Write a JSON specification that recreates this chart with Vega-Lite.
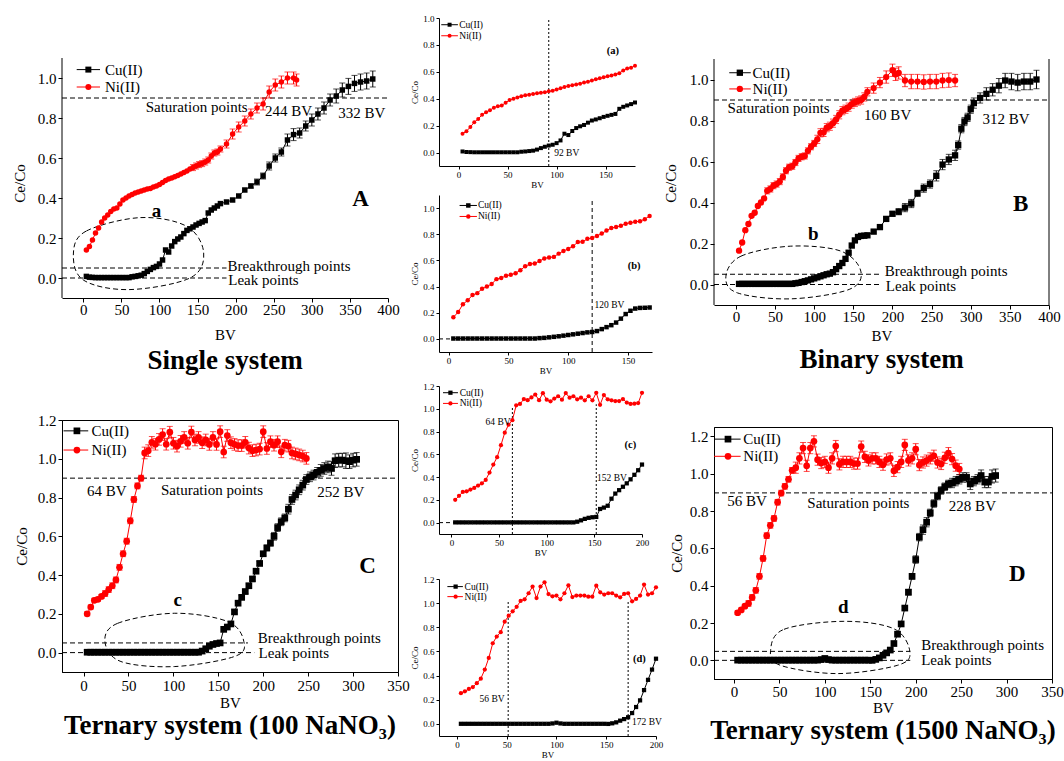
{
"$schema":"https://vega.github.io/schema/vega-lite/v6.json",
"background":"white",
"padding":{"left":12,"top":14,"right":0,"bottom":0},
"config":{"font":"Liberation Serif","view":{"stroke":null},
"axis":{"grid":false,"labelColor":"black","titleColor":"black","domainColor":"black","tickColor":"black","titleFontWeight":"normal","labelFont":"Liberation Serif","titleFont":"Liberation Serif","labelFontSize":15,"titleFontSize":15,"tickSize":4,"labelPadding":1,"labelFlush":false,"labelOverlap":false},
"title":{"font":"Liberation Serif","color":"black"},
"text":{"font":"Liberation Serif","color":"black"}},
"datasets":{
"A":[
{"s":"Cu","x":[4,8,12,16,20,24,28,32,36,40,44,48,52,56,60,64,68,72,76,80,84,88,92,96,100,104,108,112,116,120,124,128,132,136,140,144,148,152,156,160,164,168,172,176,180,188,196,204,212,220,228,236,244,252,260,268,276,284,292,300,308,316,324,332,340,348,356,364,372,380],
"y":[0.008,0.004,0.003,0.002,0.002,0.002,0.002,0.002,0.002,0.002,0.002,0.002,0.002,0.002,0.002,0.006,0.008,0.011,0.014,0.022,0.033,0.043,0.052,0.058,0.07,0.09,0.14,0.13,0.16,0.182,0.195,0.205,0.222,0.238,0.246,0.255,0.265,0.273,0.28,0.287,0.325,0.34,0.35,0.36,0.372,0.38,0.39,0.41,0.44,0.46,0.48,0.51,0.56,0.6,0.63,0.69,0.717,0.725,0.76,0.79,0.82,0.85,0.89,0.91,0.94,0.958,0.973,0.98,0.985,0.995],
"e":[0,0,0,0,0,0,0,0,0,0,0,0,0,0,0,0,0,0,0,0,0,0,0,0,0,0,0,0,0,0,0,0,0,0,0,0,0,0,0,0,0,0,0,0,0,0,0,0,0,0.01,0.015,0.015,0.02,0.02,0.02,0.03,0.03,0.025,0.025,0.03,0.03,0.03,0.03,0.035,0.035,0.04,0.04,0.04,0.04,0.04]},
{"s":"Ni","x":[4,8,12,16,20,24,28,32,36,40,44,48,52,56,60,64,68,72,76,80,84,88,92,96,100,104,108,112,116,120,124,128,132,136,140,144,148,152,156,160,164,168,172,176,180,188,196,204,212,220,228,236,244,252,260,268,276,280],
"y":[0.14,0.158,0.19,0.225,0.25,0.28,0.3,0.315,0.333,0.345,0.35,0.37,0.39,0.4,0.41,0.418,0.425,0.43,0.435,0.44,0.445,0.448,0.455,0.46,0.468,0.478,0.487,0.495,0.5,0.506,0.512,0.52,0.527,0.535,0.545,0.552,0.56,0.567,0.572,0.58,0.59,0.61,0.625,0.63,0.645,0.67,0.72,0.755,0.785,0.82,0.85,0.87,0.93,0.965,0.98,1.0,1.0,0.99],
"e":[0,0,0,0,0,0,0,0,0,0,0,0,0,0,0,0,0,0,0,0,0,0,0,0,0,0,0,0,0,0,0,0,0,0,0,0.015,0.015,0.015,0.015,0.015,0.015,0.015,0.015,0.015,0.015,0.02,0.025,0.025,0.025,0.025,0.025,0.03,0.03,0.03,0.03,0.03,0.03,0.03]}
],
"B":[
{"s":"Cu","x":[4,8,12,16,20,24,28,32,36,40,44,48,52,56,60,64,68,72,76,80,84,88,92,96,100,104,108,112,116,120,124,128,132,136,140,144,148,152,156,160,164,168,176,184,192,200,208,216,224,232,240,248,256,264,272,280,284,288,292,296,300,304,312,320,328,336,344,352,360,368,376,384],
"y":[0.003,0.003,0.003,0.003,0.003,0.003,0.003,0.003,0.003,0.003,0.003,0.003,0.003,0.003,0.003,0.003,0.003,0.003,0.006,0.008,0.012,0.016,0.02,0.025,0.03,0.035,0.04,0.045,0.05,0.053,0.06,0.075,0.09,0.105,0.125,0.155,0.19,0.215,0.232,0.237,0.238,0.24,0.258,0.28,0.32,0.345,0.355,0.375,0.395,0.445,0.47,0.49,0.53,0.585,0.61,0.63,0.68,0.76,0.795,0.815,0.855,0.885,0.91,0.93,0.95,0.97,0.995,0.99,0.985,0.99,0.99,1.0],
"e":[0,0,0,0,0,0,0,0,0,0,0,0,0,0,0,0,0,0,0,0,0,0,0,0,0,0,0,0,0,0,0,0,0,0,0,0,0,0,0,0,0,0,0,0,0,0.01,0.015,0.02,0.02,0.015,0.02,0.02,0.025,0.025,0.025,0.025,0.02,0.02,0.02,0.02,0.02,0.025,0.025,0.03,0.03,0.035,0.035,0.04,0.04,0.04,0.04,0.045]},
{"s":"Ni","x":[4,8,12,16,20,24,28,32,36,40,44,48,52,56,60,64,68,72,76,80,84,88,92,96,100,104,108,112,116,120,124,128,132,136,140,144,148,152,156,160,164,168,176,184,192,200,204,208,216,224,232,240,248,256,264,272,280],
"y":[0.165,0.205,0.265,0.295,0.335,0.35,0.383,0.4,0.42,0.457,0.466,0.482,0.49,0.502,0.525,0.555,0.572,0.577,0.595,0.615,0.623,0.627,0.652,0.672,0.688,0.708,0.74,0.742,0.765,0.772,0.787,0.805,0.828,0.848,0.855,0.865,0.88,0.888,0.895,0.9,0.915,0.94,0.958,0.985,1.012,1.045,1.025,1.032,0.995,0.99,0.99,0.988,0.99,0.99,0.995,0.997,0.995],
"e":[0,0,0,0,0,0,0,0,0,0.015,0.015,0.015,0.015,0.015,0.015,0.015,0.015,0.015,0.015,0.015,0.015,0.015,0.015,0.015,0.015,0.02,0.02,0.02,0.02,0.02,0.02,0.02,0.02,0.02,0.02,0.02,0.02,0.02,0.02,0.02,0.02,0.02,0.025,0.025,0.03,0.03,0.03,0.03,0.03,0.035,0.035,0.035,0.035,0.035,0.035,0.035,0.03]}
],
"C":[
{"s":"Cu","x":[4,8,12,16,20,24,28,32,36,40,44,48,52,56,60,64,68,72,76,80,84,88,92,96,100,104,108,112,116,120,124,128,132,136,140,144,148,152,156,160,164,168,172,176,180,184,188,192,196,200,204,208,212,216,220,224,228,232,236,240,244,248,252,256,260,264,268,272,276,280,284,288,292,296,300,304],
"y":[0.002,0.002,0.002,0.002,0.002,0.002,0.002,0.002,0.002,0.002,0.002,0.002,0.002,0.002,0.002,0.002,0.002,0.002,0.002,0.002,0.002,0.002,0.002,0.002,0.002,0.002,0.002,0.002,0.002,0.002,0.002,0.002,0.008,0.02,0.033,0.042,0.047,0.05,0.12,0.132,0.148,0.21,0.255,0.285,0.315,0.345,0.38,0.42,0.46,0.51,0.54,0.565,0.6,0.645,0.675,0.695,0.74,0.79,0.813,0.84,0.864,0.893,0.907,0.916,0.93,0.94,0.95,0.958,0.95,0.99,0.993,0.993,0.99,0.985,0.993,0.997],
"e":[0,0,0,0,0,0,0,0,0,0,0,0,0,0,0,0,0,0,0,0,0,0,0,0,0,0,0,0,0,0,0,0,0,0,0,0,0,0,0,0,0.01,0.01,0.01,0.01,0.01,0.01,0.01,0.01,0.01,0.01,0.015,0.015,0.02,0.02,0.02,0.02,0.025,0.025,0.025,0.025,0.025,0.025,0.025,0.025,0.025,0.03,0.03,0.03,0.035,0.035,0.035,0.035,0.04,0.035,0.035,0.035]},
{"s":"Ni","x":[4,8,12,16,20,24,28,32,36,40,44,48,52,56,60,64,68,72,76,80,84,88,92,96,100,104,108,112,116,120,124,128,132,136,140,144,148,152,156,160,164,168,172,176,180,184,188,192,196,200,204,208,212,216,220,224,228,232,236,240,244,248],
"y":[0.2,0.235,0.27,0.275,0.29,0.305,0.325,0.345,0.375,0.44,0.51,0.575,0.68,0.79,0.86,0.9,1.03,1.042,1.085,1.075,1.1,1.125,1.075,1.137,1.08,1.065,1.09,1.11,1.08,1.138,1.097,1.11,1.083,1.097,1.074,1.11,1.074,1.14,1.035,1.12,1.083,1.074,1.068,1.068,1.085,1.055,1.042,1.045,1.05,1.14,1.053,1.088,1.07,1.088,1.036,1.07,1.065,1.03,1.025,1.02,1.014,1.002],
"e":[0.01,0.01,0.01,0.01,0.01,0.015,0.015,0.015,0.015,0.015,0.015,0.015,0.015,0.015,0.015,0.015,0.03,0.03,0.03,0.03,0.03,0.03,0.03,0.03,0.03,0.03,0.03,0.03,0.03,0.03,0.03,0.03,0.03,0.03,0.03,0.03,0.03,0.03,0.03,0.03,0.03,0.03,0.03,0.03,0.03,0.03,0.03,0.03,0.03,0.03,0.03,0.03,0.03,0.03,0.03,0.03,0.03,0.03,0.03,0.03,0.03,0.03]}
],
"D":[
{"s":"Cu","x":[4,8,12,16,20,24,28,32,36,40,44,48,52,56,60,64,68,72,76,80,84,88,92,96,100,104,108,112,116,120,124,128,132,136,140,144,148,152,156,160,164,168,172,176,180,184,188,192,196,200,204,208,212,216,220,224,228,232,236,240,244,248,252,256,260,264,268,272,276,280,284,288],
"y":[0.001,0.001,0.001,0.001,0.001,0.001,0.001,0.001,0.001,0.001,0.001,0.001,0.001,0.001,0.001,0.001,0.001,0.001,0.001,0.001,0.001,0.001,0.001,0.004,0.01,0.004,0.001,0.001,0.001,0.001,0.001,0.001,0.001,0.001,0.001,0.001,0.001,0.0,0.005,0.013,0.027,0.04,0.055,0.09,0.14,0.195,0.28,0.365,0.45,0.54,0.66,0.7,0.74,0.79,0.84,0.88,0.91,0.93,0.945,0.95,0.96,0.97,0.98,0.98,0.945,0.96,0.97,0.99,0.955,0.955,0.985,0.99],
"e":[0,0,0,0,0,0,0,0,0,0,0,0,0,0,0,0,0,0,0,0,0,0,0,0,0,0,0,0,0,0,0,0,0,0,0,0,0,0,0,0,0,0,0,0,0,0,0.01,0.015,0.015,0.02,0.02,0.025,0.025,0.02,0.02,0.02,0.02,0.02,0.02,0.025,0.025,0.025,0.025,0.025,0.03,0.025,0.025,0.03,0.03,0.03,0.035,0.035]},
{"s":"Ni","x":[4,8,12,16,20,24,28,32,36,40,44,48,52,56,60,64,68,72,76,80,84,88,92,96,100,104,108,112,116,120,124,128,132,136,140,144,148,152,156,160,164,168,172,176,180,184,188,192,196,200,204,208,212,216,220,224,228,232,236,240,244,248],
"y":[0.255,0.27,0.29,0.305,0.337,0.375,0.45,0.546,0.668,0.723,0.76,0.847,0.896,0.932,0.97,1.018,1.032,1.082,1.137,1.042,1.137,1.173,1.075,1.057,1.063,1.032,1.082,1.148,1.05,1.063,1.063,1.063,1.054,1.054,1.145,1.09,1.071,1.082,1.082,1.063,1.048,1.076,1.082,1.015,1.035,1.063,1.154,1.071,1.082,1.131,1.046,1.06,1.07,1.082,1.096,1.06,1.052,1.085,1.11,1.078,1.043,1.025],
"e":[0.01,0.01,0.01,0.015,0.015,0.015,0.015,0.015,0.015,0.015,0.015,0.015,0.015,0.015,0.015,0.015,0.03,0.03,0.03,0.03,0.03,0.03,0.03,0.03,0.03,0.03,0.03,0.03,0.03,0.03,0.03,0.03,0.03,0.03,0.03,0.03,0.03,0.03,0.03,0.03,0.03,0.03,0.03,0.03,0.03,0.03,0.03,0.03,0.03,0.03,0.03,0.03,0.03,0.03,0.03,0.03,0.03,0.03,0.03,0.03,0.03,0.03]}
],
"nA":[
{"k":"dash","x":-28,"x2":400,"y":0.9},{"k":"dash","x":-28,"x2":188,"y":0.05},{"k":"dash","x":-28,"x2":188,"y":0},
{"k":"axis","x":-28,"y":-0.1,"y2":1.1},
{"k":"ell","i":0,"x":-13,"y":0.125},{"k":"ell","i":1,"x":4,"y":0.235},{"k":"ell","i":2,"x":75,"y":0.302},{"k":"ell","i":3,"x":136,"y":0.258},{"k":"ell","i":4,"x":158,"y":0.125},{"k":"ell","i":5,"x":140,"y":0.0},{"k":"ell","i":6,"x":60,"y":-0.058},{"k":"ell","i":7,"x":0,"y":-0.01},
{"k":"leg","s":"Cu","x":-8.7,"x2":21.9,"y":1.042},{"k":"leg","s":"Ni","x":-8.7,"x2":21.9,"y":0.955},
{"k":"legm","s":"Cu","x":6.6,"y":1.042},{"k":"legm","s":"Ni","x":6.6,"y":0.955},
{"k":"txt","t":"Cu(II)","x":28.4,"y":1.042},{"k":"txt","t":"Ni(II)","x":28.4,"y":0.955},
{"k":"txt","t":"Saturation points","x":81.8,"y":0.855},{"k":"txt","t":"244 BV","x":238.4,"y":0.833},{"k":"txt","t":"332 BV","x":334.6,"y":0.825},
{"k":"txt","t":"Breakthrough points","x":189.4,"y":0.062},{"k":"txt","t":"Leak points","x":190.3,"y":-0.008},
{"k":"lab","t":"a","x":96.2,"y":0.333},{"k":"big","t":"A","x":364,"y":0.397}
],
"nB":[
{"k":"dash","x":-28,"x2":400,"y":0.9},{"k":"dash","x":-28,"x2":185,"y":0.05},{"k":"dash","x":-28,"x2":185,"y":0},
{"k":"axis","x":-28,"y":-0.1,"y2":1.1},{"k":"axis","x":400,"y":-0.1,"y2":1.1},
{"k":"ell","i":0,"x":-12.8,"y":0.04},{"k":"ell","i":1,"x":6.4,"y":0.138},{"k":"ell","i":2,"x":70,"y":0.187},{"k":"ell","i":3,"x":134,"y":0.163},{"k":"ell","i":4,"x":159.6,"y":0.065},{"k":"ell","i":5,"x":144.7,"y":-0.024},{"k":"ell","i":6,"x":70,"y":-0.07},{"k":"ell","i":7,"x":2,"y":-0.041},
{"k":"leg","s":"Cu","x":-8.5,"x2":19,"y":1.033},{"k":"leg","s":"Ni","x":-8.5,"x2":19,"y":0.954},
{"k":"legm","s":"Cu","x":5,"y":1.033},{"k":"legm","s":"Ni","x":5,"y":0.954},
{"k":"txt","t":"Cu(II)","x":21.3,"y":1.033},{"k":"txt","t":"Ni(II)","x":21.3,"y":0.954},
{"k":"txt","t":"Saturation points","x":-10.6,"y":0.862},{"k":"txt","t":"160 BV","x":163.8,"y":0.829},{"k":"txt","t":"312 BV","x":315,"y":0.805},
{"k":"txt","t":"Breakthrough points","x":190,"y":0.065},{"k":"txt","t":"Leak points","x":191.5,"y":-0.008},
{"k":"lab","t":"b","x":99,"y":0.244},{"k":"big","t":"B","x":363.8,"y":0.395}
],
"nC":[
{"k":"dash","x":-24,"x2":350,"y":0.9},{"k":"dash","x":-24,"x2":183,"y":0.05},{"k":"dash","x":-24,"x2":190,"y":0},
{"k":"ell","i":0,"x":23.8,"y":0.057},{"k":"ell","i":1,"x":37.9,"y":0.151},{"k":"ell","i":2,"x":101,"y":0.203},{"k":"ell","i":3,"x":160.6,"y":0.16},{"k":"ell","i":4,"x":178.4,"y":0.057},{"k":"ell","i":5,"x":168,"y":-0.02},{"k":"ell","i":6,"x":101,"y":-0.072},{"k":"ell","i":7,"x":41.6,"y":-0.046},
{"k":"leg","s":"Cu","x":-22.3,"x2":5.2,"y":1.144},{"k":"leg","s":"Ni","x":-22.3,"x2":5.2,"y":1.045},
{"k":"legm","s":"Cu","x":-7.4,"y":1.144},{"k":"legm","s":"Ni","x":-7.4,"y":1.045},
{"k":"txt","t":"Cu(II)","x":8.9,"y":1.144},{"k":"txt","t":"Ni(II)","x":8.9,"y":1.045},
{"k":"txt","t":"64 BV","x":3.7,"y":0.835},{"k":"txt","t":"Saturation points","x":86.2,"y":0.838},{"k":"txt","t":"252 BV","x":260,"y":0.83},
{"k":"txt","t":"Breakthrough points","x":194,"y":0.077},{"k":"txt","t":"Leak points","x":194.8,"y":0.0},
{"k":"lab","t":"c","x":104.8,"y":0.271},{"k":"big","t":"C","x":316,"y":0.448}
],
"nD":[
{"k":"dash","x":-22,"x2":350,"y":0.897},{"k":"dash","x":-22,"x2":194,"y":0.048},{"k":"dash","x":-22,"x2":194,"y":0},
{"k":"ell","i":0,"x":40.3,"y":0.053},{"k":"ell","i":1,"x":55,"y":0.166},{"k":"ell","i":2,"x":121,"y":0.209},{"k":"ell","i":3,"x":176,"y":0.169},{"k":"ell","i":4,"x":193.6,"y":0.045},{"k":"ell","i":5,"x":179.7,"y":-0.027},{"k":"ell","i":6,"x":113.7,"y":-0.071},{"k":"ell","i":7,"x":51.3,"y":-0.027},
{"k":"leg","s":"Cu","x":-22,"x2":7.3,"y":1.185},{"k":"leg","s":"Ni","x":-22,"x2":7.3,"y":1.093},
{"k":"legm","s":"Cu","x":-6.6,"y":1.185},{"k":"legm","s":"Ni","x":-6.6,"y":1.093},
{"k":"txt","t":"Cu(II)","x":10.3,"y":1.185},{"k":"txt","t":"Ni(II)","x":10.3,"y":1.093},
{"k":"txt","t":"56 BV","x":-7.3,"y":0.856},{"k":"txt","t":"Saturation points","x":80.7,"y":0.843},{"k":"txt","t":"228 BV","x":236.5,"y":0.825},
{"k":"txt","t":"Breakthrough points","x":206,"y":0.08},{"k":"txt","t":"Leak points","x":206,"y":0.004},
{"k":"lab","t":"d","x":120.3,"y":0.285},{"k":"big","t":"D","x":311.7,"y":0.463}
],
"ia":[
{"k":"v","x":92,"y":-0.1,"y2":1.0},
{"k":"leg","s":"Cu","x":-17.7,"x2":-0.7,"y":0.95},{"k":"leg","s":"Ni","x":-17.7,"x2":-0.7,"y":0.868},
{"k":"legm","s":"Cu","x":-9.2,"y":0.95},{"k":"legm","s":"Ni","x":-9.2,"y":0.868},
{"k":"txt","t":"Cu(II)","x":0.7,"y":0.95},{"k":"txt","t":"Ni(II)","x":0.7,"y":0.868},
{"k":"txt","t":"92 BV","x":97.6,"y":-0.005},
{"k":"lab","t":"(a)","x":157.5,"y":0.757}
],
"ib":[
{"k":"v","x":120,"y":-0.1,"y2":1.076},
{"k":"dash","x":-8,"x2":4,"y":0},
{"k":"leg","s":"Cu","x":9.2,"x2":23.7,"y":1.02},{"k":"leg","s":"Ni","x":9.2,"x2":23.7,"y":0.936},
{"k":"legm","s":"Cu","x":16.5,"y":1.02},{"k":"legm","s":"Ni","x":16.5,"y":0.936},
{"k":"txt","t":"Cu(II)","x":24.6,"y":1.02},{"k":"txt","t":"Ni(II)","x":24.6,"y":0.936},
{"k":"txt","t":"120 BV","x":122,"y":0.262},
{"k":"lab","t":"(b)","x":155,"y":0.56}
],
"ic":[
{"k":"v","x":64,"y":-0.1,"y2":1.024},{"k":"v","x":152,"y":-0.1,"y2":1.04},
{"k":"dash","x":-13,"x2":4,"y":0},
{"k":"leg","s":"Cu","x":-8.8,"x2":6.9,"y":1.141},{"k":"leg","s":"Ni","x":-8.8,"x2":6.9,"y":1.047},
{"k":"legm","s":"Cu","x":-1,"y":1.141},{"k":"legm","s":"Ni","x":-1,"y":1.047},
{"k":"txt","t":"Cu(II)","x":8.7,"y":1.141},{"k":"txt","t":"Ni(II)","x":8.7,"y":1.047},
{"k":"txt","t":"64 BV","x":35.9,"y":0.883},{"k":"txt","t":"152 BV","x":152.9,"y":0.389},
{"k":"lab","t":"(c)","x":187.8,"y":0.681}
],
"id":[
{"k":"v","x":51.5,"y":-0.1,"y2":1.016},{"k":"v","x":172,"y":-0.1,"y2":1.02},
{"k":"leg","s":"Cu","x":-9.6,"x2":6,"y":1.137},{"k":"leg","s":"Ni","x":-9.6,"x2":6,"y":1.054},
{"k":"legm","s":"Cu","x":-1.3,"y":1.137},{"k":"legm","s":"Ni","x":-1.3,"y":1.054},
{"k":"txt","t":"Cu(II)","x":7.7,"y":1.137},{"k":"txt","t":"Ni(II)","x":7.7,"y":1.054},
{"k":"txt","t":"56 BV","x":22.8,"y":0.207},{"k":"txt","t":"172 BV","x":175.9,"y":0.019},
{"k":"lab","t":"(d)","x":183.3,"y":0.538}
]
},
"spacing":0,
"hconcat":[
{"vconcat":[
{"width":326,"height":280,
"title":{"text":"Single system","orient":"bottom","fontSize":27,"fontWeight":"bold","offset":6},
"encoding":{
"x":{"field":"x","type":"quantitative","scale":{"domain":[-28,400],"nice":false,"zero":false},"axis":{"values":[0,50,100,150,200,250,300,350,400],"title":"BV","labelPadding":0,"titlePadding":10}},
"y":{"field":"y","type":"quantitative","scale":{"domain":[-0.1,1.3],"nice":false,"zero":false},"axis":{"values":[0,0.2,0.4,0.6,0.8,1],"format":".1f","title":"Ce/Co","domain":false,"labelPadding":2,"titleX":-35,"titleY":165}}},
"layer":[
{"data":{"name":"nA"},"transform":[{"filter":"datum.k=='dash'"}],"mark":{"type":"rule","strokeDash":[5,3],"color":"black"},"encoding":{"x2":{"field":"x2"}}},
{"data":{"name":"nA"},"transform":[{"filter":"datum.k=='axis'"}],"mark":{"type":"rule","color":"black"},"encoding":{"y2":{"field":"y2"}}},
{"data":{"name":"nA"},"transform":[{"filter":"datum.k=='ell'"}],"mark":{"type":"line","interpolate":"cardinal-closed","strokeDash":[5,3],"color":"black","strokeWidth":1},"encoding":{"order":{"field":"i","type":"quantitative"}}},
{"data":{"name":"A"},"transform":[{"flatten":["x","y","e"]},{"filter":"datum.e>0"}],"mark":{"type":"errorbar","ticks":{"size":6}},"encoding":{"yError":{"field":"e"},"color":{"field":"s","type":"nominal","scale":{"domain":["Cu","Ni"],"range":["#000000","#ff0000"]},"legend":null}}},
{"data":{"name":"A"},"transform":[{"flatten":["x","y","e"]}],"mark":{"type":"line","strokeWidth":1},"encoding":{"color":{"field":"s","type":"nominal","legend":null}}},
{"data":{"name":"A"},"transform":[{"flatten":["x","y","e"]}],"mark":{"type":"point","filled":true,"opacity":1,"size":30},"encoding":{"color":{"field":"s","type":"nominal","legend":null},"shape":{"field":"s","type":"nominal","scale":{"domain":["Cu","Ni"],"range":["square","circle"]},"legend":null}}},
{"data":{"name":"nA"},"transform":[{"filter":"datum.k=='leg'"}],"mark":{"type":"rule","strokeWidth":1},"encoding":{"x2":{"field":"x2"},"color":{"field":"s","type":"nominal","legend":null}}},
{"data":{"name":"nA"},"transform":[{"filter":"datum.k=='legm'"}],"mark":{"type":"point","filled":true,"opacity":1,"size":36},"encoding":{"color":{"field":"s","type":"nominal","legend":null},"shape":{"field":"s","type":"nominal","legend":null}}},
{"data":{"name":"nA"},"transform":[{"filter":"datum.k=='txt'"}],"mark":{"type":"text","align":"left","baseline":"middle","fontSize":15},"encoding":{"text":{"field":"t","type":"nominal"}}},
{"data":{"name":"nA"},"transform":[{"filter":"datum.k=='lab'"}],"mark":{"type":"text","align":"center","baseline":"middle","fontSize":19,"fontWeight":"bold"},"encoding":{"text":{"field":"t","type":"nominal"}}},
{"data":{"name":"nA"},"transform":[{"filter":"datum.k=='big'"}],"mark":{"type":"text","align":"center","baseline":"middle","fontSize":23,"fontWeight":"bold"},"encoding":{"text":{"field":"t","type":"nominal"}}}
]},
{"width":336,"height":252,"view":{"stroke":"black"},
"title":{"text":"Ternary system (100 NaNO₃)","orient":"bottom","fontSize":27,"fontWeight":"bold","offset":3},
"encoding":{
"x":{"field":"x","type":"quantitative","scale":{"domain":[-24,350],"nice":false,"zero":false},"axis":{"values":[0,50,100,150,200,250,300,350],"title":"BV","labelPadding":2,"titlePadding":2}},
"y":{"field":"y","type":"quantitative","scale":{"domain":[-0.1,1.2],"nice":false,"zero":false},"axis":{"values":[0,0.2,0.4,0.6,0.8,1,1.2],"format":".1f","title":"Ce/Co","labelPadding":2,"titlePadding":8}}},
"layer":[
{"data":{"name":"nC"},"transform":[{"filter":"datum.k=='dash'"}],"mark":{"type":"rule","strokeDash":[5,3],"color":"black"},"encoding":{"x2":{"field":"x2"}}},
{"data":{"name":"nC"},"transform":[{"filter":"datum.k=='ell'"}],"mark":{"type":"line","interpolate":"cardinal-closed","strokeDash":[5,3],"color":"black","strokeWidth":1},"encoding":{"order":{"field":"i","type":"quantitative"}}},
{"data":{"name":"C"},"transform":[{"flatten":["x","y","e"]},{"filter":"datum.e>0"}],"mark":{"type":"errorbar","ticks":{"size":6}},"encoding":{"yError":{"field":"e"},"color":{"field":"s","type":"nominal","legend":null}}},
{"data":{"name":"C"},"transform":[{"flatten":["x","y","e"]}],"mark":{"type":"line","strokeWidth":1},"encoding":{"color":{"field":"s","type":"nominal","legend":null}}},
{"data":{"name":"C"},"transform":[{"flatten":["x","y","e"]}],"mark":{"type":"point","filled":true,"opacity":1,"size":45},"encoding":{"color":{"field":"s","type":"nominal","legend":null},"shape":{"field":"s","type":"nominal","legend":null}}},
{"data":{"name":"nC"},"transform":[{"filter":"datum.k=='leg'"}],"mark":{"type":"rule","strokeWidth":1},"encoding":{"x2":{"field":"x2"},"color":{"field":"s","type":"nominal","legend":null}}},
{"data":{"name":"nC"},"transform":[{"filter":"datum.k=='legm'"}],"mark":{"type":"point","filled":true,"opacity":1,"size":45},"encoding":{"color":{"field":"s","type":"nominal","legend":null},"shape":{"field":"s","type":"nominal","legend":null}}},
{"data":{"name":"nC"},"transform":[{"filter":"datum.k=='txt'"}],"mark":{"type":"text","align":"left","baseline":"middle","fontSize":15},"encoding":{"text":{"field":"t","type":"nominal"}}},
{"data":{"name":"nC"},"transform":[{"filter":"datum.k=='lab'"}],"mark":{"type":"text","align":"center","baseline":"middle","fontSize":19,"fontWeight":"bold"},"encoding":{"text":{"field":"t","type":"nominal"}}},
{"data":{"name":"nC"},"transform":[{"filter":"datum.k=='big'"}],"mark":{"type":"text","align":"center","baseline":"middle","fontSize":23,"fontWeight":"bold"},"encoding":{"text":{"field":"t","type":"nominal"}}}
]}
],"spacing":122,"bounds":"flush"},
{"vconcat":[
{"vconcat":[
{"width":196,"height":148,
"encoding":{
"x":{"field":"x","type":"quantitative","scale":{"domain":[-20,180],"nice":false,"zero":false},"axis":{"values":[0,50,100,150],"title":"BV","labelFontSize":9,"titleFontSize":9,"tickSize":3,"labelPadding":1,"titlePadding":1}},
"y":{"field":"y","type":"quantitative","scale":{"domain":[-0.1,1.0],"nice":false,"zero":false},"axis":{"values":[0,0.2,0.4,0.6,0.8,1],"format":".1f","title":"Ce/Co","labelFontSize":9,"titleFontSize":9,"tickSize":3,"labelPadding":2,"titlePadding":3}}},
"layer":[
{"data":{"name":"ia"},"transform":[{"filter":"datum.k=='v'"}],"mark":{"type":"rule","strokeDash":[2,2],"color":"black"},"encoding":{"y2":{"field":"y2"}}},
{"data":{"name":"A"},"transform":[{"flatten":["x","y"]},{"filter":"datum.x<=180"}],"mark":{"type":"line","strokeWidth":1},"encoding":{"color":{"field":"s","type":"nominal","legend":null}}},
{"data":{"name":"A"},"transform":[{"flatten":["x","y"]},{"filter":"datum.x<=180"}],"mark":{"type":"point","filled":true,"opacity":1,"size":16},"encoding":{"color":{"field":"s","type":"nominal","legend":null},"shape":{"field":"s","type":"nominal","legend":null}}},
{"data":{"name":"ia"},"transform":[{"filter":"datum.k=='leg'"}],"mark":{"type":"rule","strokeWidth":1},"encoding":{"x2":{"field":"x2"},"color":{"field":"s","type":"nominal","legend":null}}},
{"data":{"name":"ia"},"transform":[{"filter":"datum.k=='legm'"}],"mark":{"type":"point","filled":true,"opacity":1,"size":16},"encoding":{"color":{"field":"s","type":"nominal","legend":null},"shape":{"field":"s","type":"nominal","legend":null}}},
{"data":{"name":"ia"},"transform":[{"filter":"datum.k=='txt'"}],"mark":{"type":"text","align":"left","baseline":"middle","fontSize":9.5},"encoding":{"text":{"field":"t","type":"nominal"}}},
{"data":{"name":"ia"},"transform":[{"filter":"datum.k=='lab'"}],"mark":{"type":"text","align":"center","baseline":"middle","fontSize":10.5,"fontWeight":"bold"},"encoding":{"text":{"field":"t","type":"nominal"}}}
]},
{"width":213,"height":157,
"encoding":{
"x":{"field":"x","type":"quantitative","scale":{"domain":[-8,170],"nice":false,"zero":false},"axis":{"values":[0,50,100,150],"title":"BV","labelFontSize":9,"titleFontSize":9,"tickSize":3,"labelPadding":1,"titlePadding":1}},
"y":{"field":"y","type":"quantitative","scale":{"domain":[-0.1,1.1],"nice":false,"zero":false},"axis":{"values":[0,0.2,0.4,0.6,0.8,1],"format":".1f","title":"Ce/Co","labelFontSize":9,"titleFontSize":9,"tickSize":3,"labelPadding":2,"titlePadding":3}}},
"layer":[
{"data":{"name":"ib"},"transform":[{"filter":"datum.k=='v'"}],"mark":{"type":"rule","strokeDash":[4,3],"color":"black"},"encoding":{"y2":{"field":"y2"}}},
{"data":{"name":"ib"},"transform":[{"filter":"datum.k=='dash'"}],"mark":{"type":"rule","strokeDash":[4,3],"color":"black"},"encoding":{"x2":{"field":"x2"}}},
{"data":{"name":"B"},"transform":[{"flatten":["x","y"]},{"filter":"datum.x<=168"}],"mark":{"type":"line","strokeWidth":1},"encoding":{"color":{"field":"s","type":"nominal","legend":null}}},
{"data":{"name":"B"},"transform":[{"flatten":["x","y"]},{"filter":"datum.x<=168"}],"mark":{"type":"point","filled":true,"opacity":1,"size":20},"encoding":{"color":{"field":"s","type":"nominal","legend":null},"shape":{"field":"s","type":"nominal","legend":null}}},
{"data":{"name":"ib"},"transform":[{"filter":"datum.k=='leg'"}],"mark":{"type":"rule","strokeWidth":1},"encoding":{"x2":{"field":"x2"},"color":{"field":"s","type":"nominal","legend":null}}},
{"data":{"name":"ib"},"transform":[{"filter":"datum.k=='legm'"}],"mark":{"type":"point","filled":true,"opacity":1,"size":20},"encoding":{"color":{"field":"s","type":"nominal","legend":null},"shape":{"field":"s","type":"nominal","legend":null}}},
{"data":{"name":"ib"},"transform":[{"filter":"datum.k=='txt'"}],"mark":{"type":"text","align":"left","baseline":"middle","fontSize":9.5},"encoding":{"text":{"field":"t","type":"nominal"}}},
{"data":{"name":"ib"},"transform":[{"filter":"datum.k=='lab'"}],"mark":{"type":"text","align":"center","baseline":"middle","fontSize":10.5,"fontWeight":"bold"},"encoding":{"text":{"field":"t","type":"nominal"}}}
]}
],"spacing":29,"bounds":"flush"},
{"vconcat":[
{"width":203,"height":148,
"encoding":{
"x":{"field":"x","type":"quantitative","scale":{"domain":[-13,200],"nice":false,"zero":false},"axis":{"values":[0,50,100,150,200],"title":"BV","labelFontSize":9,"titleFontSize":9,"tickSize":3,"labelPadding":1,"titlePadding":1}},
"y":{"field":"y","type":"quantitative","scale":{"domain":[-0.1,1.2],"nice":false,"zero":false},"axis":{"values":[0,0.2,0.4,0.6,0.8,1,1.2],"format":".1f","title":"Ce/Co","labelFontSize":9,"titleFontSize":9,"tickSize":3,"labelPadding":2,"titlePadding":3}}},
"layer":[
{"data":{"name":"ic"},"transform":[{"filter":"datum.k=='v'"}],"mark":{"type":"rule","strokeDash":[2,2],"color":"black"},"encoding":{"y2":{"field":"y2"}}},
{"data":{"name":"ic"},"transform":[{"filter":"datum.k=='dash'"}],"mark":{"type":"rule","strokeDash":[4,3],"color":"black"},"encoding":{"x2":{"field":"x2"}}},
{"data":{"name":"C"},"transform":[{"flatten":["x","y"]},{"filter":"datum.x<=200"}],"mark":{"type":"line","strokeWidth":1},"encoding":{"color":{"field":"s","type":"nominal","legend":null}}},
{"data":{"name":"C"},"transform":[{"flatten":["x","y"]},{"filter":"datum.x<=200"}],"mark":{"type":"point","filled":true,"opacity":1,"size":18},"encoding":{"color":{"field":"s","type":"nominal","legend":null},"shape":{"field":"s","type":"nominal","legend":null}}},
{"data":{"name":"ic"},"transform":[{"filter":"datum.k=='leg'"}],"mark":{"type":"rule","strokeWidth":1},"encoding":{"x2":{"field":"x2"},"color":{"field":"s","type":"nominal","legend":null}}},
{"data":{"name":"ic"},"transform":[{"filter":"datum.k=='legm'"}],"mark":{"type":"point","filled":true,"opacity":1,"size":18},"encoding":{"color":{"field":"s","type":"nominal","legend":null},"shape":{"field":"s","type":"nominal","legend":null}}},
{"data":{"name":"ic"},"transform":[{"filter":"datum.k=='txt'"}],"mark":{"type":"text","align":"left","baseline":"middle","fontSize":9.5},"encoding":{"text":{"field":"t","type":"nominal"}}},
{"data":{"name":"ic"},"transform":[{"filter":"datum.k=='lab'"}],"mark":{"type":"text","align":"center","baseline":"middle","fontSize":10.5,"fontWeight":"bold"},"encoding":{"text":{"field":"t","type":"nominal"}}}
]},
{"width":217,"height":157,
"encoding":{
"x":{"field":"x","type":"quantitative","scale":{"domain":[-18,200],"nice":false,"zero":false},"axis":{"values":[0,50,100,150,200],"title":"BV","labelFontSize":9,"titleFontSize":9,"tickSize":3,"labelPadding":1,"titlePadding":1}},
"y":{"field":"y","type":"quantitative","scale":{"domain":[-0.1,1.2],"nice":false,"zero":false},"axis":{"values":[0,0.2,0.4,0.6,0.8,1,1.2],"format":".1f","title":"Ce/Co","labelFontSize":9,"titleFontSize":9,"tickSize":3,"labelPadding":2,"titlePadding":3}}},
"layer":[
{"data":{"name":"id"},"transform":[{"filter":"datum.k=='v'"}],"mark":{"type":"rule","strokeDash":[2,2],"color":"black"},"encoding":{"y2":{"field":"y2"}}},
{"data":{"name":"D"},"transform":[{"flatten":["x","y"]},{"filter":"datum.x<=200"}],"mark":{"type":"line","strokeWidth":1},"encoding":{"color":{"field":"s","type":"nominal","legend":null}}},
{"data":{"name":"D"},"transform":[{"flatten":["x","y"]},{"filter":"datum.x<=200"}],"mark":{"type":"point","filled":true,"opacity":1,"size":18},"encoding":{"color":{"field":"s","type":"nominal","legend":null},"shape":{"field":"s","type":"nominal","legend":null}}},
{"data":{"name":"id"},"transform":[{"filter":"datum.k=='leg'"}],"mark":{"type":"rule","strokeWidth":1},"encoding":{"x2":{"field":"x2"},"color":{"field":"s","type":"nominal","legend":null}}},
{"data":{"name":"id"},"transform":[{"filter":"datum.k=='legm'"}],"mark":{"type":"point","filled":true,"opacity":1,"size":18},"encoding":{"color":{"field":"s","type":"nominal","legend":null},"shape":{"field":"s","type":"nominal","legend":null}}},
{"data":{"name":"id"},"transform":[{"filter":"datum.k=='txt'"}],"mark":{"type":"text","align":"left","baseline":"middle","fontSize":9.5},"encoding":{"text":{"field":"t","type":"nominal"}}},
{"data":{"name":"id"},"transform":[{"filter":"datum.k=='lab'"}],"mark":{"type":"text","align":"center","baseline":"middle","fontSize":10.5,"fontWeight":"bold"},"encoding":{"text":{"field":"t","type":"nominal"}}}
]}
],"spacing":45,"bounds":"flush"}
],"spacing":7},
{"vconcat":[
{"width":335,"height":287,
"title":{"text":"Binary system","orient":"bottom","fontSize":27,"fontWeight":"bold","offset":4},
"encoding":{
"x":{"field":"x","type":"quantitative","scale":{"domain":[-28,400],"nice":false,"zero":false},"axis":{"values":[0,50,100,150,200,250,300,350,400],"title":"BV","labelPadding":0,"titlePadding":4}},
"y":{"field":"y","type":"quantitative","scale":{"domain":[-0.1,1.3],"nice":false,"zero":false},"axis":{"values":[0,0.2,0.4,0.6,0.8,1],"format":".1f","title":"Ce/Co","domain":false,"labelPadding":2,"titleX":-36,"titleY":165}}},
"layer":[
{"data":{"name":"nB"},"transform":[{"filter":"datum.k=='dash'"}],"mark":{"type":"rule","strokeDash":[5,3],"color":"black"},"encoding":{"x2":{"field":"x2"}}},
{"data":{"name":"nB"},"transform":[{"filter":"datum.k=='axis'"}],"mark":{"type":"rule","color":"black"},"encoding":{"y2":{"field":"y2"}}},
{"data":{"name":"nB"},"transform":[{"filter":"datum.k=='ell'"}],"mark":{"type":"line","interpolate":"cardinal-closed","strokeDash":[5,3],"color":"black","strokeWidth":1},"encoding":{"order":{"field":"i","type":"quantitative"}}},
{"data":{"name":"B"},"transform":[{"flatten":["x","y","e"]},{"filter":"datum.e>0"}],"mark":{"type":"errorbar","ticks":{"size":6}},"encoding":{"yError":{"field":"e"},"color":{"field":"s","type":"nominal","legend":null}}},
{"data":{"name":"B"},"transform":[{"flatten":["x","y","e"]}],"mark":{"type":"line","strokeWidth":1},"encoding":{"color":{"field":"s","type":"nominal","legend":null}}},
{"data":{"name":"B"},"transform":[{"flatten":["x","y","e"]}],"mark":{"type":"point","filled":true,"opacity":1,"size":40},"encoding":{"color":{"field":"s","type":"nominal","legend":null},"shape":{"field":"s","type":"nominal","legend":null}}},
{"data":{"name":"nB"},"transform":[{"filter":"datum.k=='leg'"}],"mark":{"type":"rule","strokeWidth":1},"encoding":{"x2":{"field":"x2"},"color":{"field":"s","type":"nominal","legend":null}}},
{"data":{"name":"nB"},"transform":[{"filter":"datum.k=='legm'"}],"mark":{"type":"point","filled":true,"opacity":1,"size":40},"encoding":{"color":{"field":"s","type":"nominal","legend":null},"shape":{"field":"s","type":"nominal","legend":null}}},
{"data":{"name":"nB"},"transform":[{"filter":"datum.k=='txt'"}],"mark":{"type":"text","align":"left","baseline":"middle","fontSize":15},"encoding":{"text":{"field":"t","type":"nominal"}}},
{"data":{"name":"nB"},"transform":[{"filter":"datum.k=='lab'"}],"mark":{"type":"text","align":"center","baseline":"middle","fontSize":19,"fontWeight":"bold"},"encoding":{"text":{"field":"t","type":"nominal"}}},
{"data":{"name":"nB"},"transform":[{"filter":"datum.k=='big'"}],"mark":{"type":"text","align":"center","baseline":"middle","fontSize":23,"fontWeight":"bold"},"encoding":{"text":{"field":"t","type":"nominal"}}}
]},
{"width":338,"height":252,"view":{"stroke":"black"},
"title":{"text":"Ternary system (1500 NaNO₃)","orient":"bottom","fontSize":27,"fontWeight":"bold","offset":3},
"encoding":{
"x":{"field":"x","type":"quantitative","scale":{"domain":[-22,350],"nice":false,"zero":false},"axis":{"values":[0,50,100,150,200,250,300,350],"title":"BV","labelPadding":1,"titlePadding":1}},
"y":{"field":"y","type":"quantitative","scale":{"domain":[-0.1,1.25],"nice":false,"zero":false},"axis":{"values":[0,0.2,0.4,0.6,0.8,1,1.2],"format":".1f","title":"Ce/Co","labelPadding":2,"titlePadding":5}}},
"layer":[
{"data":{"name":"nD"},"transform":[{"filter":"datum.k=='dash'"}],"mark":{"type":"rule","strokeDash":[5,3],"color":"black"},"encoding":{"x2":{"field":"x2"}}},
{"data":{"name":"nD"},"transform":[{"filter":"datum.k=='ell'"}],"mark":{"type":"line","interpolate":"cardinal-closed","strokeDash":[5,3],"color":"black","strokeWidth":1},"encoding":{"order":{"field":"i","type":"quantitative"}}},
{"data":{"name":"D"},"transform":[{"flatten":["x","y","e"]},{"filter":"datum.e>0"}],"mark":{"type":"errorbar","ticks":{"size":6}},"encoding":{"yError":{"field":"e"},"color":{"field":"s","type":"nominal","legend":null}}},
{"data":{"name":"D"},"transform":[{"flatten":["x","y","e"]}],"mark":{"type":"line","strokeWidth":1},"encoding":{"color":{"field":"s","type":"nominal","legend":null}}},
{"data":{"name":"D"},"transform":[{"flatten":["x","y","e"]}],"mark":{"type":"point","filled":true,"opacity":1,"size":45},"encoding":{"color":{"field":"s","type":"nominal","legend":null},"shape":{"field":"s","type":"nominal","legend":null}}},
{"data":{"name":"nD"},"transform":[{"filter":"datum.k=='leg'"}],"mark":{"type":"rule","strokeWidth":1},"encoding":{"x2":{"field":"x2"},"color":{"field":"s","type":"nominal","legend":null}}},
{"data":{"name":"nD"},"transform":[{"filter":"datum.k=='legm'"}],"mark":{"type":"point","filled":true,"opacity":1,"size":45},"encoding":{"color":{"field":"s","type":"nominal","legend":null},"shape":{"field":"s","type":"nominal","legend":null}}},
{"data":{"name":"nD"},"transform":[{"filter":"datum.k=='txt'"}],"mark":{"type":"text","align":"left","baseline":"middle","fontSize":15},"encoding":{"text":{"field":"t","type":"nominal"}}},
{"data":{"name":"nD"},"transform":[{"filter":"datum.k=='lab'"}],"mark":{"type":"text","align":"center","baseline":"middle","fontSize":19,"fontWeight":"bold"},"encoding":{"text":{"field":"t","type":"nominal"}}},
{"data":{"name":"nD"},"transform":[{"filter":"datum.k=='big'"}],"mark":{"type":"text","align":"center","baseline":"middle","fontSize":23,"fontWeight":"bold"},"encoding":{"text":{"field":"t","type":"nominal"}}}
]}
],"spacing":122,"bounds":"flush"}
]
}
